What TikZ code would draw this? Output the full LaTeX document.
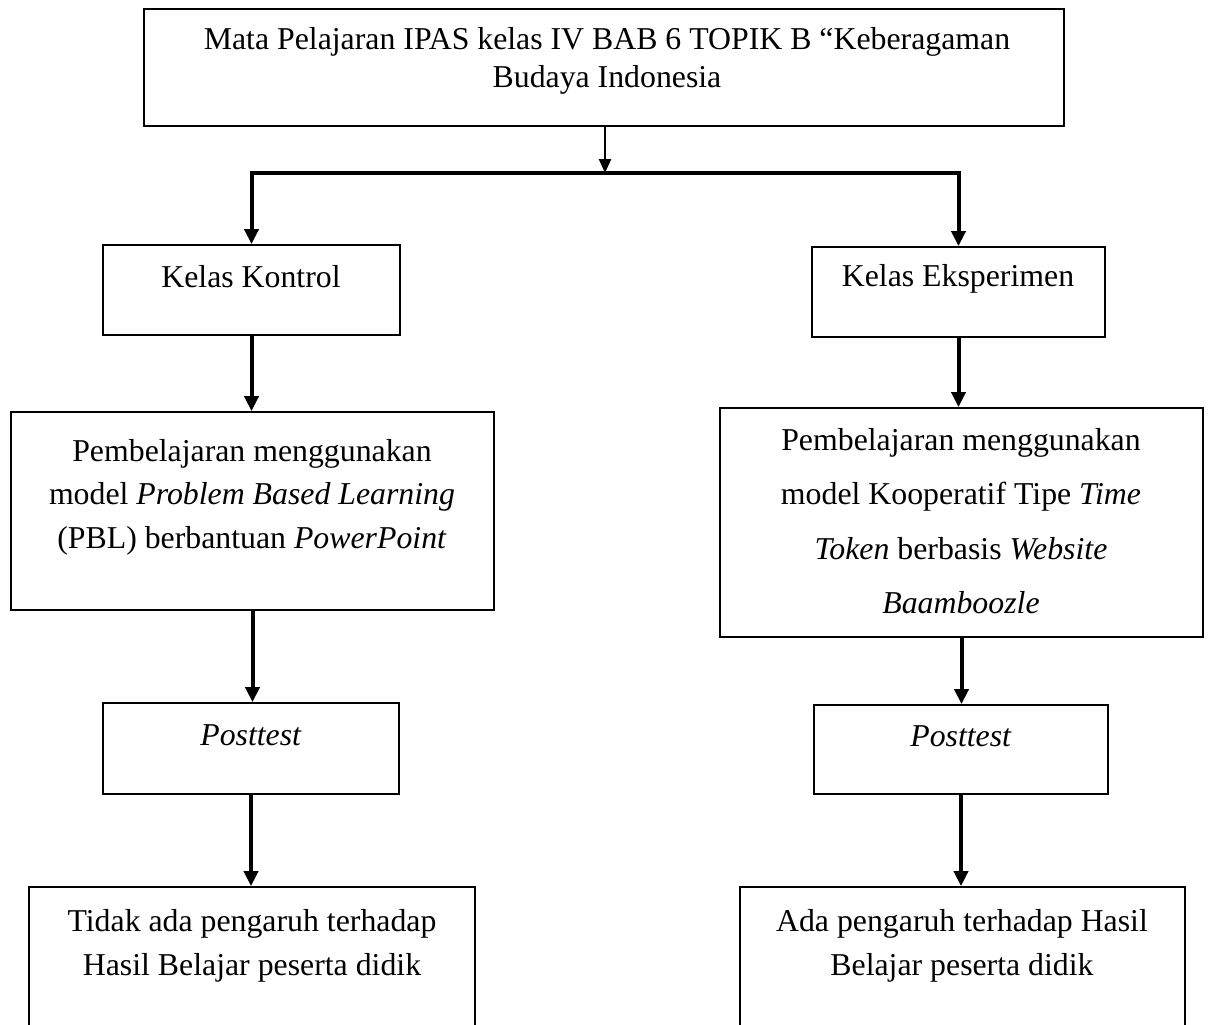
\documentclass[tikz,border=0pt]{standalone}
\usepackage{fontspec}
\setmainfont{Liberation Serif}
\usetikzlibrary{fit, arrows.meta}

\begin{document}
\begin{tikzpicture}[x=0.5pt, y=-0.5pt,
    box/.style={draw, line width=0.9pt, inner sep=0pt},
    txt/.style={align=center, inner sep=0pt, font=\fontsize{15.9}{21.75}\selectfont},
    arr/.style={line width=2pt, -{Triangle[width=7pt,length=7.5pt]}},
    thinarr/.style={line width=1.1pt, -{Triangle[width=6pt,length=7pt]}}]
    \clip (0,0) rectangle (1210,1024);

    % boxes
    \node[box, fit={(144,9) (1064,126)}] (top) {};
    \node[box, fit={(103,245) (400,335)}] (kk) {};
    \node[box, fit={(812,247) (1105,337)}] (ke) {};
    \node[box, fit={(11,412) (494,610)}] (pbl) {};
    \node[box, fit={(720,408) (1203,637)}] (tt) {};
    \node[box, fit={(103,703) (399,794)}] (postl) {};
    \node[box, fit={(814,705) (1108,794)}] (postr) {};
    \node[box, fit={(29,887) (475,1060)}] (finl) {};
    \node[box, fit={(740,887) (1185,1060)}] (finr) {};

    % texts
    \node[txt, font=\fontsize{15.9}{19}\selectfont] (top-t) at (607,61)
        {Mata Pelajaran IPAS kelas IV BAB 6 TOPIK B “Keberagaman\\Budaya Indonesia};
    \node[txt] (kk-t) at (251,277) {Kelas Kontrol};
    \node[txt] (ke-t) at (958,279) {Kelas Eksperimen};
    \node[txt] (pbl-t) at (252,497)
        {Pembelajaran menggunakan\\model \textit{Problem Based Learning}\\(PBL) berbantuan \textit{PowerPoint}};
    \node[txt, font=\fontsize{15.9}{27.2}\selectfont] (tt-t) at (961,521)
        {Pembelajaran menggunakan\\model Kooperatif Tipe \textit{Time}\\\textit{Token} berbasis \textit{Website}\\\textit{Baamboozle}};
    \node[txt] (postl-t) at (251,735) {\textit{Posttest}};
    \node[txt] (postr-t) at (961,736) {\textit{Posttest}};
    \node[txt, font=\fontsize{15.9}{22}\selectfont] (finl-t) at (252,946)
        {Tidak ada pengaruh terhadap\\Hasil Belajar peserta didik};
    \node[txt, font=\fontsize{15.9}{22}\selectfont] (finr-t) at (962,946)
        {Ada pengaruh terhadap Hasil\\Belajar peserta didik};

    % connectors
    \coordinate (split) at (605,173);
    \draw[thinarr] (split |- top.south) -- (split);
    \draw[arr] (split) -| (kk.north);
    \draw[arr] (split) -| (ke.north);
    \draw[arr] (kk.south) -- (kk.south |- pbl.north);
    \draw[arr] (ke.south) -- (ke.south |- tt.north);
    \draw[arr] (pbl.south) -- (pbl.south |- postl.north);
    \draw[arr] (tt.south) -- (tt.south |- postr.north);
    \draw[arr] (postl.south) -- (postl.south |- finl.north);
    \draw[arr] (postr.south) -- (postr.south |- finr.north);
\end{tikzpicture}
\end{document}
